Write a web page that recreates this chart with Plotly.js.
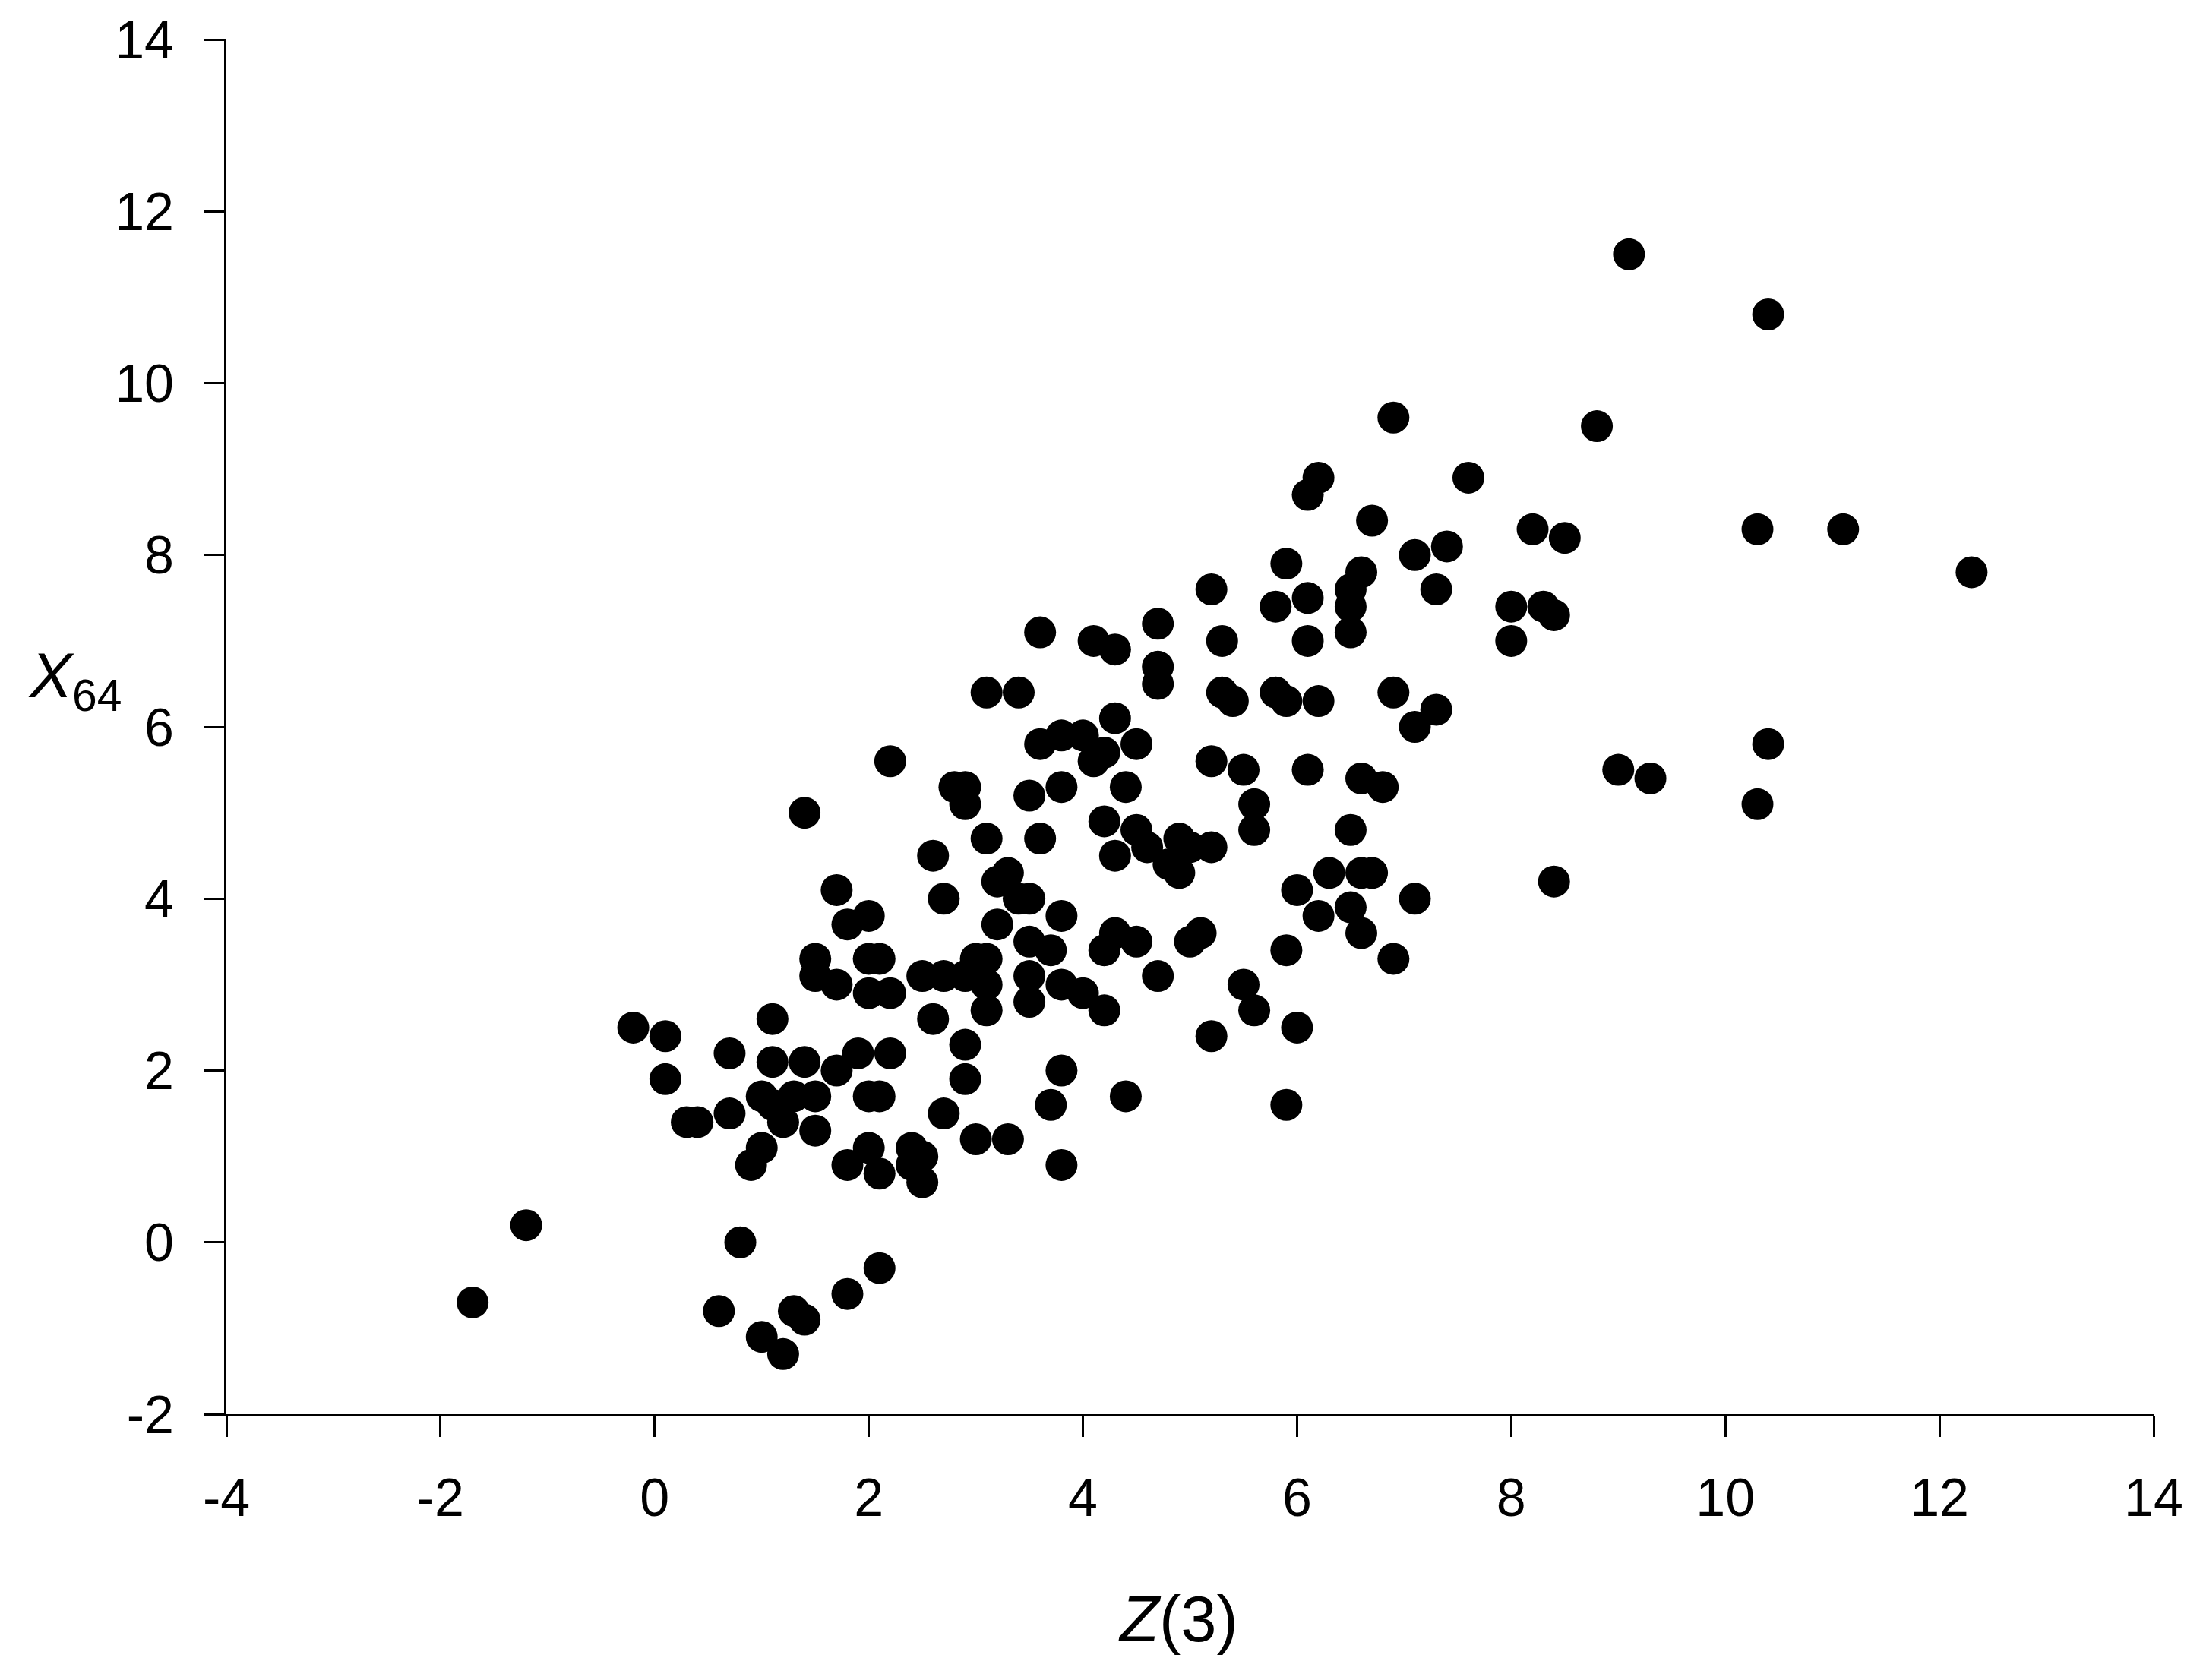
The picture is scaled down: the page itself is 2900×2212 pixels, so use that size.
<!DOCTYPE html>
<html>
<head>
<meta charset="utf-8">
<script src="https://cdn.plot.ly/plotly-3.0.1.min.js"></script>
<style>
  html, body { margin: 0; padding: 0; background: #ffffff; }
  #chart { width: 2900px; height: 2212px; }
</style>
</head>
<body>
<div id="chart"></div>
<script>
// Z(3) values (x) and X64 values (y)
const z3 = [
  -1.7, -1.2, -0.2, 0.1, 0.1, 0.3, 0.4, 0.7, 0.7, 0.8,
  0.6, 1.0, 1.2, 1.3, 1.4, 0.9, 1.0, 1.0, 1.1, 1.1,
  1.1, 1.2, 1.3, 1.4, 1.4, 1.5, 1.5, 1.5, 1.5, 1.7,
  1.7, 1.7, 1.8, 1.8, 1.9, 1.8, 2.0, 2.0, 2.0, 2.0,
  2.0, 2.1, 2.1, 2.1, 2.1, 2.2, 2.2, 2.2, 2.4, 2.4,
  2.5, 2.5, 2.5, 2.6, 2.6, 2.7, 2.7, 2.7, 2.8, 2.9,
  2.9, 2.9, 2.9, 2.9, 3.0, 3.0, 3.1, 3.1, 3.1, 3.1,
  3.1, 3.2, 3.2, 3.3, 3.3, 3.4, 3.4, 3.5, 3.5, 3.5,
  3.5, 3.5, 3.6, 3.6, 3.6, 3.7, 3.7, 3.8, 3.8, 3.8,
  3.8, 3.8, 3.8, 4.0, 4.0, 4.1, 4.1, 4.2, 4.2, 4.2,
  4.2, 4.3, 4.3, 4.3, 4.3, 4.4, 4.4, 4.5, 4.5, 4.5,
  4.6, 4.7, 4.7, 4.7, 4.7, 4.8, 4.9, 4.9, 5.0, 5.0,
  5.1, 5.2, 5.2, 5.2, 5.2, 5.3, 5.3, 5.4, 5.5, 5.5,
  5.6, 5.6, 5.6, 5.8, 5.8, 5.9, 5.9, 5.9, 5.9, 6.0,
  6.0, 6.1, 6.1, 6.1, 6.1, 6.2, 6.2, 6.2, 6.3, 6.5,
  6.5, 6.5, 6.5, 6.5, 6.6, 6.6, 6.6, 6.6, 6.7, 6.7,
  6.8, 6.9, 6.9, 6.9, 7.1, 7.1, 7.1, 7.3, 7.3, 7.4,
  7.6, 8.0, 8.0, 8.2, 8.3, 8.4, 8.4, 8.5, 8.8, 9.0,
  9.1, 9.3, 10.3, 10.3, 10.4, 10.4, 11.1, 12.3
];
const x64 = [
  -0.7, 0.2, 2.5, 2.4, 1.9, 1.4, 1.4, 2.2, 1.5, 0.0,
  -0.8, -1.1, -1.3, -0.8, -0.9, 0.9, 1.1, 1.7, 2.6, 2.1,
  1.6, 1.4, 1.7, 2.1, 5.0, 1.7, 1.3, 3.3, 3.1, 4.1,
  3.0, 2.0, 3.7, -0.6, 2.2, 0.9, 3.8, 3.3, 2.9, 1.7,
  1.1, 3.3, 1.7, 0.8, -0.3, 5.6, 2.9, 2.2, 1.1, 0.9,
  1.0, 0.7, 3.1, 4.5, 2.6, 4.0, 3.1, 1.5, 5.3, 5.3,
  5.1, 2.3, 1.9, 3.1, 3.3, 1.2, 6.4, 4.7, 3.3, 3.0,
  2.7, 4.2, 3.7, 4.3, 1.2, 6.4, 4.0, 5.2, 4.0, 3.5,
  3.1, 2.8, 7.1, 5.8, 4.7, 3.4, 1.6, 5.9, 5.3, 3.8,
  3.0, 2.0, 0.9, 5.9, 2.9, 7.0, 5.6, 5.7, 4.9, 3.4,
  2.7, 6.9, 6.1, 4.5, 3.6, 5.3, 1.7, 5.8, 4.8, 3.5,
  4.6, 7.2, 6.7, 6.5, 3.1, 4.4, 4.7, 4.3, 4.6, 3.5,
  3.6, 7.6, 5.6, 4.6, 2.4, 7.0, 6.4, 6.3, 5.5, 3.0,
  5.1, 4.8, 2.7, 7.4, 6.4, 7.9, 6.3, 3.4, 1.6, 4.1,
  2.5, 8.7, 7.5, 7.0, 5.5, 8.9, 6.3, 3.8, 4.3, 7.6,
  7.4, 7.1, 4.8, 3.9, 7.8, 5.4, 4.3, 3.6, 8.4, 4.3,
  5.3, 9.6, 6.4, 3.3, 8.0, 6.0, 4.0, 7.6, 6.2, 8.1,
  8.9, 7.4, 7.0, 8.3, 7.4, 7.3, 4.2, 8.2, 9.5, 5.5,
  11.5, 5.4, 8.3, 5.1, 10.8, 5.8, 8.3, 7.8
];
const xTickVals = [-4, -2, 0, 2, 4, 6, 8, 10, 12, 14];
const xTickText = ["-4", "-2", "0", "2", "4", "6", "8", "10", "12", "14"];
const yTickVals = [-2, 0, 2, 4, 6, 8, 10, 12, 14];
const yTickText = ["-2", "0", "2", "4", "6", "8", "10", "12", "14"];
const xTitle = "<i>Z</i>(3)";
const yTitle = "<i>X</i><sub>64</sub>";

const FONT = "Liberation Sans, Arial, Helvetica, sans-serif";

const trace = {
  type: "scatter",
  mode: "markers",
  x: z3,
  y: x64,
  marker: { color: "#000000", size: 42, line: { width: 0 } },
  hoverinfo: "x+y",
  showlegend: false
};

const axisCommon = {
  showgrid: false,
  zeroline: false,
  showline: true,
  linecolor: "#000000",
  linewidth: 3,
  ticks: "outside",
  ticklen: 27,
  tickwidth: 3,
  tickcolor: "#000000",
  tickfont: { family: FONT, size: 70, color: "#000000" },
  tickmode: "array",
  fixedrange: true
};

const layout = {
  width: 2900,
  height: 2212,
  margin: { l: 298, r: 65, t: 52, b: 350, pad: 0 },
  paper_bgcolor: "#ffffff",
  plot_bgcolor: "#ffffff",
  showlegend: false,
  xaxis: Object.assign({}, axisCommon, {
    range: [-4, 14],
    tickvals: xTickVals,
    ticktext: xTickText,
    ticklabelstandoff: 20
  }),
  yaxis: Object.assign({}, axisCommon, {
    range: [-2, 14],
    tickvals: yTickVals,
    ticktext: yTickText,
    ticklabelstandoff: 25
  }),
  annotations: [
    {
      text: xTitle,
      xref: "paper", yref: "paper",
      x: 0.494, y: -0.149,
      xanchor: "center", yanchor: "middle",
      showarrow: false,
      font: { family: FONT, size: 85, color: "#000000" }
    },
    {
      text: yTitle,
      xref: "paper", yref: "paper",
      x: -0.1037, y: 0.534,
      xanchor: "left", yanchor: "middle",
      showarrow: false,
      font: { family: FONT, size: 84, color: "#000000" }
    }
  ]
};

Plotly.newPlot("chart", [trace], layout, { displayModeBar: false, staticPlot: true });
</script>
</body>
</html>
